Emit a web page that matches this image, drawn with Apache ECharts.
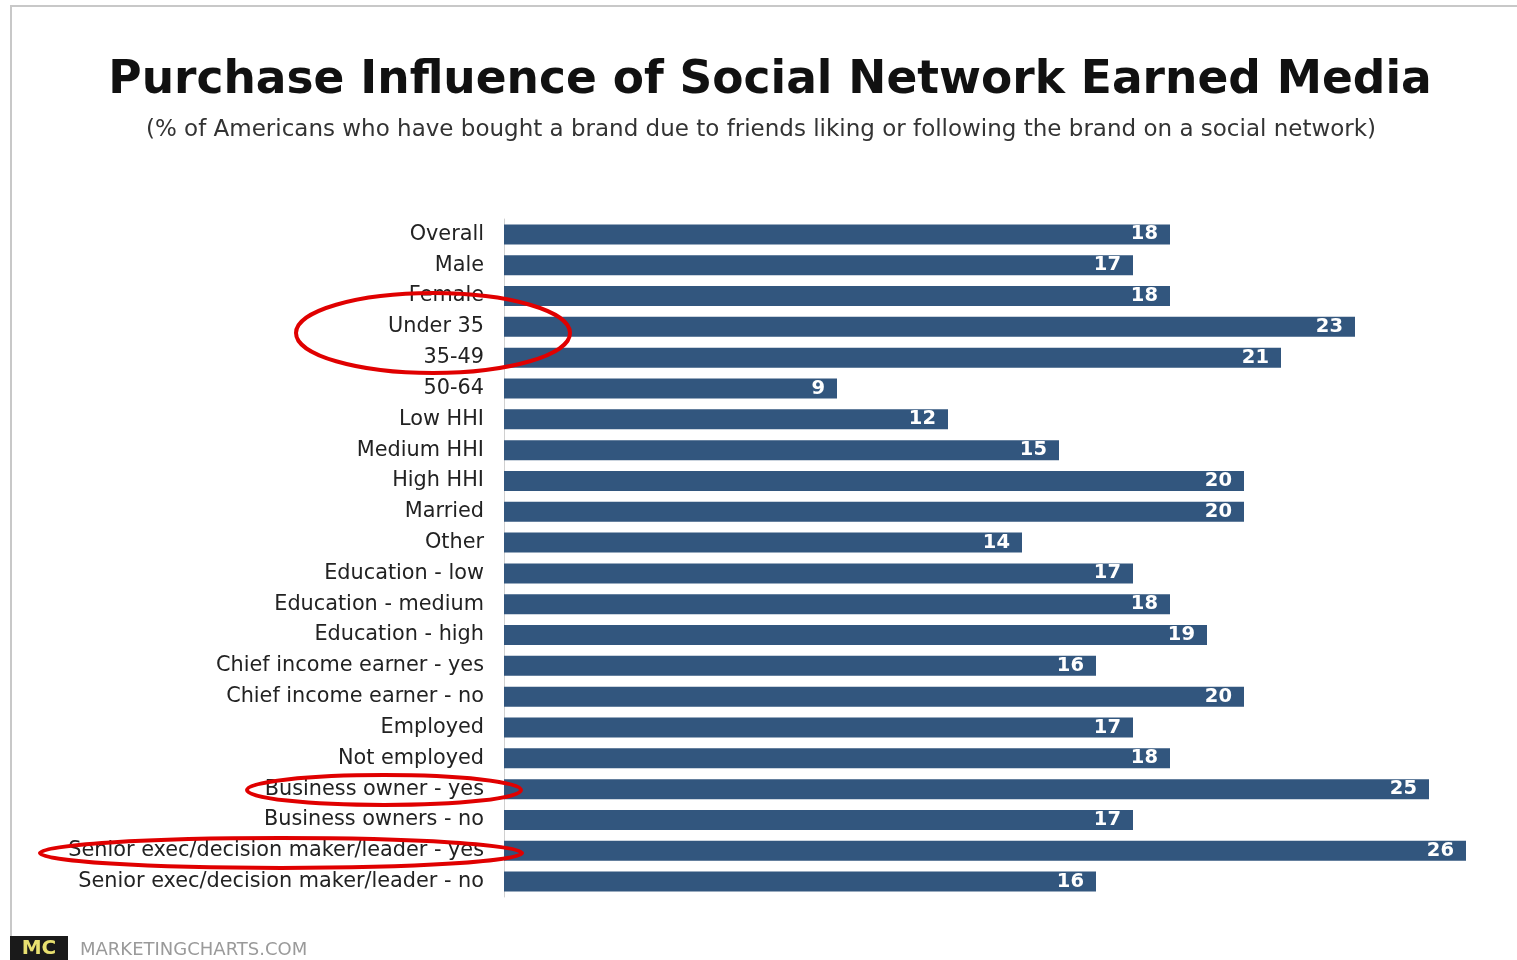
<!DOCTYPE html>
<html>
<head>
<meta charset="utf-8">
<script src="https://cdn.jsdelivr.net/npm/echarts@6/dist/echarts.min.js"></script>
<style>
  html, body { margin: 0; padding: 0; background: #fff; }
  #main { width: 1517px; height: 960px; }
</style>
</head>
<body>
<div id="main"></div>
<script>
var categories = ['Overall', 'Male', 'Female', 'Under 35', '35-49', '50-64', 'Low HHI', 'Medium HHI', 'High HHI',
    'Married', 'Other', 'Education - low', 'Education - medium', 'Education - high',
    'Chief income earner - yes', 'Chief income earner - no', 'Employed', 'Not employed',
    'Business owner - yes', 'Business owners - no', 'Senior exec/decision maker/leader - yes',
    'Senior exec/decision maker/leader - no'];
var values = [18, 17, 18, 23, 21, 9, 12, 15, 20, 20, 14, 17, 18, 19, 16, 20, 17, 18, 25, 17, 26, 16];

var myChart = echarts.init(document.getElementById('main'));
var option = {
    backgroundColor: '#fff',
    animation: false,
    title: [{
        text: 'Purchase Influence of Social Network Earned Media',
        left: 765, top: 53, textAlign: 'center',
        textStyle: { fontFamily: 'DejaVu Sans', fontWeight: 'bold', fontSize: 45.5, color: '#111' }
    }, {
        text: '(% of Americans who have bought a brand due to friends liking or following the brand on a social network)',
        left: 756, top: 114, textAlign: 'center',
        textStyle: { fontFamily: 'DejaVu Sans', fontWeight: 'normal', fontSize: 23, color: '#333' }
    }],
    grid: { left: 504, top: 219, width: 999, height: 678 },
    xAxis: {
        type: 'value', min: 0, max: 27, show: false
    },
    yAxis: {
        type: 'category',
        inverse: true,
        data: categories,
        axisLine: { lineStyle: { color: '#d0d0d0', width: 1 } },
        axisTick: { length: 4, lineStyle: { color: '#c8c8c8' } },
        axisLabel: { fontFamily: 'DejaVu Sans', fontSize: 20.8, color: '#222', margin: 20, padding: [6, 0, 0, 0] }
    },
    series: [{
        type: 'bar',
        data: values,
        barWidth: 20,
        itemStyle: { color: '#32567e' },
        label: {
            show: true, position: 'insideRight', distance: 12, padding: [3, 0, 0, 0],
            fontFamily: 'DejaVu Sans', fontWeight: 'bold', fontSize: 19.5, color: '#fff'
        }
    }],
    graphic: [
        { type: 'polyline', shape: { points: [[11, 960], [11, 6], [1517, 6]] },
          style: { stroke: '#c8c8c8', lineWidth: 2, fill: null } },
        { type: 'ellipse', shape: { cx: 433, cy: 333, rx: 137, ry: 40 },
          style: { stroke: '#e00000', lineWidth: 4, fill: null }, z: 100 },
        { type: 'ellipse', shape: { cx: 384, cy: 790, rx: 137, ry: 15 },
          style: { stroke: '#e00000', lineWidth: 4, fill: null }, z: 100 },
        { type: 'ellipse', shape: { cx: 281, cy: 853, rx: 241, ry: 15 },
          style: { stroke: '#e00000', lineWidth: 4, fill: null }, z: 100 },
        { type: 'rect', shape: { x: 10, y: 936, width: 58, height: 24 }, style: { fill: '#1a1a1a' } },
        { type: 'text', x: 39, y: 949, style: { text: 'MC', fill: '#e8e070', fontFamily: 'DejaVu Sans', fontWeight: 'bold', fontSize: 20, align: 'center', verticalAlign: 'middle' } },
        { type: 'text', x: 80, y: 950, style: { text: 'MARKETINGCHARTS.COM', fill: '#9a9a9a', fontFamily: 'DejaVu Sans', fontSize: 18, verticalAlign: 'middle' } }
    ]
};
myChart.setOption(option);
</script>
</body>
</html>
